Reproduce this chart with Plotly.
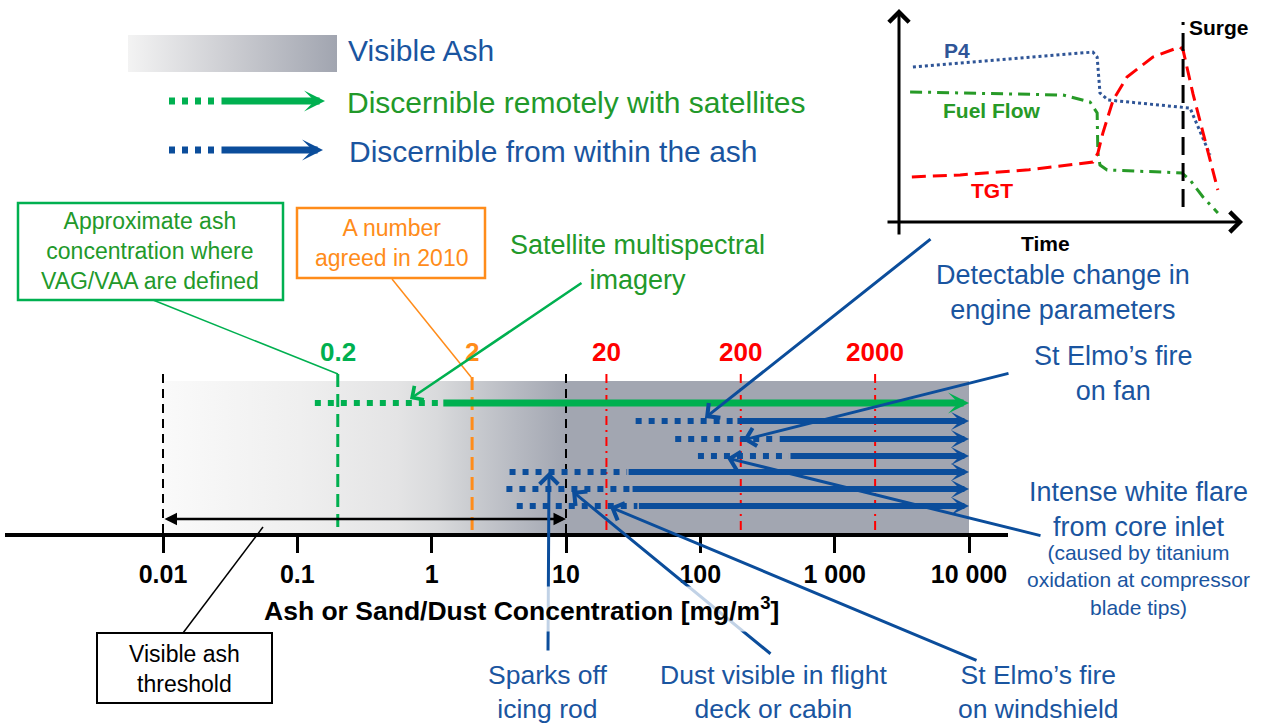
import numpy as np
import plotly.graph_objects as go

W, H = 1261, 723
FONT = "Liberation Sans, Arial, sans-serif"

# ---------------- data ----------------
DECADE_TICKS = [0.01, 0.1, 1, 10, 100, 1000, 10000]
DECADE_LABELS = ["0.01", "0.1", "1", "10", "100", "1 000", "10 000"]

VISIBLE_ASH_RANGE = [0.01, 10]          # visible ash threshold span
VAG_VAA_LEVEL = 0.2                     # approx. ash concentration for VAG/VAA
AGREED_2010_LEVEL = 2                   # number agreed in 2010
ENGINE_LEVELS = [20, 200, 2000]
ENGINE_LABELS = ["20", "200", "2000"]

SAT_DOTTED_START = 0.135
SAT_SOLID_START = 1.19
SAT_END = 10000

ROW_NAMES = ["Detectable change in engine parameters", "St Elmo's fire on fan",
             "Intense white flare from core inlet", "Sparks off icing rod",
             "Dust visible in flight deck or cabin", "St Elmo's fire on windshield"]
ROW_DOTTED_START = [33, 65, 96, 3.8, 3.6, 4.3]
ROW_SOLID_START = [184, 380, 457, 28.5, 30.5, 34]
ROW_END = [10000, 10000, 10000, 10000, 10000, 10000]

# inset: engine parameters vs time (arbitrary units 0-100)
P4_T = [7.3, 58.0, 59.2, 60.0, 62.3, 84.0, 85.4, 86.2, 91.0]
P4_V = [74.7, 81.3, 79.1, 63.1, 60.0, 56.9, 56.4, 53.3, 35.6]
FUEL_T = [6.5, 49.6, 57.2, 59.2, 59.4, 60.0, 62.0, 83.1, 85.4, 89.0, 93.2]
FUEL_V = [63.6, 62.2, 59.1, 54.2, 36.4, 31.1, 28.9, 27.6, 24.4, 16.9, 9.8]
TGT_T = [7.0, 20.6, 40.0, 58.0, 59.4, 60.8, 63.7, 67.6, 74.9, 82.5, 83.4, 86.2, 93.2]
TGT_V = [25.8, 26.7, 29.0, 32.4, 36.4, 45.3, 60.0, 70.2, 79.1, 83.6, 82.2, 62.7, 20.0]
SURGE_T = 83.4
SURGE_V = [12.4, 94.7]

# ---------------- layout constants (pixels) ----------------
PX_001 = 163.0           # pixel of 0.01
DEC = (969.0 - 163.0) / 6.0
AX_L, AX_R = 5.0, 1008.0
AXIS_Y = 535
BOX_TOP = 381
SAT_Y = 403
ROW_Y = [421, 439, 456, 472, 489, 506]
THR_TOP = 374
LABEL_Y = 352

BLUE = "#0b4d9b"
BLUE_T = "#1a55a0"
GREEN = "#00b050"
GREEN_T = "#22992a"
ORANGE = "#ff8c1a"
RED = "#ff0000"

fig = go.Figure()

def main_line(xs, ys, color, width, dash="solid"):
    fig.add_trace(go.Scatter(x=xs, y=ys, mode="lines", xaxis="x", yaxis="y",
                             line=dict(color=color, width=width, dash=dash),
                             hoverinfo="skip"))

# gradient "visible ash" band
fig.add_trace(go.Scatter(
    x=[DECADE_TICKS[0], DECADE_TICKS[-1], DECADE_TICKS[-1], DECADE_TICKS[0], DECADE_TICKS[0]],
    y=[BOX_TOP, BOX_TOP, AXIS_Y - 2, AXIS_Y - 2, BOX_TOP],
    mode="lines", fill="toself", line=dict(width=0), xaxis="x", yaxis="y",
    fillgradient=dict(type="horizontal", colorscale=[
        [0.0, "#fafafa"], [0.17, "#efefef"], [0.29, "#e4e4e5"], [0.34, "#d9dadc"],
        [0.38, "#cbcdd1"], [0.44, "#b6b9c1"], [0.50, "#a2a6b1"], [1.0, "#a2a6b1"]]),
    hoverinfo="skip"))

# threshold verticals
for v in VISIBLE_ASH_RANGE:
    main_line([v, v], [THR_TOP, AXIS_Y], "black", 2, "9px,6px")
main_line([VAG_VAA_LEVEL] * 2, [THR_TOP, AXIS_Y - 2], GREEN, 3, "13px,7px")
main_line([AGREED_2010_LEVEL] * 2, [THR_TOP + 3, AXIS_Y - 2], ORANGE, 3, "13px,7px")
for v in ENGINE_LEVELS:
    main_line([v, v], [THR_TOP, AXIS_Y - 2], RED, 2, "9px,5px,2px,5px")

# dotted parts of arrows
main_line([SAT_DOTTED_START, SAT_SOLID_START], [SAT_Y, SAT_Y], GREEN, 6, "6px,7px")
for d0, s0, y in zip(ROW_DOTTED_START, ROW_SOLID_START, ROW_Y):
    main_line([d0, s0], [y, y], BLUE, 6, "6px,7px")

# ---------------- overlay (pixel) subplot traces ----------------
fig.add_trace(go.Scatter(
    x=[128, 337, 337, 128, 128], y=[35, 35, 72, 72, 35], mode="lines", fill="toself",
    line=dict(width=0), xaxis="x2", yaxis="y2", hoverinfo="skip",
    fillgradient=dict(type="horizontal", colorscale=[[0, "#f3f3f3"], [0.5, "#cbccd1"], [1, "#a1a5b0"]])))
for yy, col in [(101, GREEN), (150, BLUE)]:
    fig.add_trace(go.Scatter(x=[169, 216], y=[yy, yy], mode="lines", xaxis="x2", yaxis="y2",
                             line=dict(color=col, width=7, dash="6px,7px"), hoverinfo="skip"))

# ---------------- inset traces ----------------
fig.add_trace(go.Scatter(x=P4_T, y=P4_V, mode="lines", xaxis="x3", yaxis="y3",
                         line=dict(color="#2f5597", width=3, dash="3px,3px"), hoverinfo="skip"))
fig.add_trace(go.Scatter(x=FUEL_T, y=FUEL_V, mode="lines", xaxis="x3", yaxis="y3",
                         line=dict(color="#279a27", width=3, dash="12px,6px,3px,6px"), hoverinfo="skip"))
fig.add_trace(go.Scatter(x=TGT_T, y=TGT_V, mode="lines", xaxis="x3", yaxis="y3",
                         line=dict(color=RED, width=3, dash="14px,7px"), hoverinfo="skip"))
fig.add_trace(go.Scatter(x=[SURGE_T, SURGE_T], y=SURGE_V, mode="lines", xaxis="x3", yaxis="y3",
                         line=dict(color="black", width=3, dash="18px,8px"), hoverinfo="skip"))

ann = []

def txt(x, y, s, size, color, bold=False, xanchor="center", **kw):
    d = dict(x=x, y=y, xref="x2", yref="y2", text=s, showarrow=False,
             font=dict(family=FONT, size=size, color=color, weight="bold" if bold else "normal"),
             xanchor=xanchor, yanchor="middle", align="center")
    d.update(kw)
    return d

def leader(tx, ty, hx, hy, color, width, head=4, size=1.0):
    return dict(x=hx, y=hy, xref="x2", yref="y2", ax=tx, ay=ty, axref="x2", ayref="y2",
                text="", showarrow=True, arrowhead=head, arrowsize=size,
                arrowwidth=width, arrowcolor=color, standoff=0)

# solid arrow parts with heads (main axis, log coordinates)
ann.append(dict(x=np.log10(SAT_END), y=SAT_Y, xref="x", yref="y",
                ax=np.log10(SAT_SOLID_START), ay=SAT_Y, axref="x", ayref="y",
                text="", showarrow=True, arrowhead=3, arrowsize=0.5, arrowwidth=7,
                arrowcolor=GREEN, standoff=0))
for s0, e, y in zip(ROW_SOLID_START, ROW_END, ROW_Y):
    ann.append(dict(x=np.log10(e), y=y, xref="x", yref="y",
                    ax=np.log10(s0), ay=y, axref="x", ayref="y",
                    text="", showarrow=True, arrowhead=3, arrowsize=0.5, arrowwidth=6,
                    arrowcolor=BLUE, standoff=0))

# visible ash threshold double arrow
ann.append(dict(x=np.log10(VISIBLE_ASH_RANGE[1]), y=519, xref="x", yref="y",
                ax=np.log10(VISIBLE_ASH_RANGE[0]), ay=519, axref="x", ayref="y",
                text="", showarrow=True, arrowhead=2, startarrowhead=2, arrowside="end+start",
                arrowsize=1, startarrowsize=1, arrowwidth=2.5, arrowcolor="black", standoff=0,
                startstandoff=0))

# threshold labels
def thr_label(v, s, color):
    return dict(x=np.log10(v), y=LABEL_Y, xref="x", yref="y", text=s, showarrow=False,
                font=dict(family=FONT, size=26, color=color, weight="bold"),
                xanchor="center", yanchor="middle")

ann.append(thr_label(VAG_VAA_LEVEL, "0.2", GREEN))
ann.append(thr_label(AGREED_2010_LEVEL, "2", ORANGE))
for v, s in zip(ENGINE_LEVELS, ENGINE_LABELS):
    ann.append(thr_label(v, s, RED))

# legend texts
ann.append(txt(346, 50, "Visible Ash", 30, BLUE_T, xanchor="left"))
ann.append(txt(345, 102, "Discernible remotely with satellites", 30, GREEN_T, xanchor="left"))
ann.append(txt(347, 151, "Discernible from within the ash", 30, BLUE_T, xanchor="left"))
ann.append(leader(220, 101, 325, 101, GREEN, 7, head=3, size=0.5))
ann.append(leader(220, 150, 323, 150, BLUE, 7, head=3, size=0.5))

# callouts with leaders
ann.append(leader(583, 282, 410, 399, GREEN, 2.5, head=4, size=1.3))
ann.append(leader(932, 238, 705, 418, BLUE, 3, head=4, size=1.2))
ann.append(leader(1010, 373, 743, 440, BLUE, 3, head=4, size=1.2))
ann.append(leader(1042, 536, 727, 458, BLUE, 3, head=4, size=1.2))
ann.append(leader(548, 652, 549, 472, BLUE, 3, head=4, size=1.2))
ann.append(leader(772, 655, 572, 491, BLUE, 3, head=4, size=1.2))
ann.append(leader(978, 661, 610, 507, BLUE, 3, head=4, size=1.2))

ann.append(txt(150, 251, "Approximate ash<br>concentration where<br>VAG/VAA are defined", 23, GREEN_T))
ann.append(txt(391, 243, "A number<br>agreed in 2010", 23, ORANGE))
ann.append(txt(637, 262, "Satellite multispectral<br>imagery", 27, GREEN_T))
ann.append(txt(1063, 292, "Detectable change in<br>engine parameters", 27, BLUE_T))
ann.append(txt(1113, 373, "St Elmo’s fire<br>on fan", 27, BLUE_T))
ann.append(txt(1138, 509, "Intense white flare<br>from core inlet", 27, BLUE_T))
ann.append(txt(1138, 580, "(caused by titanium<br>oxidation at compressor<br>blade tips)", 21, BLUE_T))
ann.append(txt(547, 692, "Sparks off<br>icing rod", 26.5, BLUE_T))
ann.append(txt(773, 692, "Dust visible in flight<br>deck or cabin", 26.5, BLUE_T))
ann.append(txt(1038, 692, "St Elmo’s fire<br>on windshield", 26.5, BLUE_T))
ann.append(txt(184, 669, "Visible ash<br>threshold", 23, "black"))

# axis title with translucent background
ann.append(txt(521, 609, "Ash or Sand/Dust Concentration [mg/m<sup>3</sup>]", 26.5, "black", bold=True,
               bgcolor="rgba(255,255,255,0.75)", borderpad=5))

# inset axes and labels
ann.append(leader(899, 236, 899, 9, "black", 3, head=4, size=1.3))
ann.append(leader(886, 222, 1243, 222, "black", 3, head=4, size=1.3))
ann.append(txt(957, 50, "P4", 21, "#2f5597", bold=True))
ann.append(txt(991, 110, "Fuel Flow", 21, "#279a27", bold=True))
ann.append(txt(992, 190, "TGT", 21, RED, bold=True))
ann.append(txt(1187, 27, "Surge", 21, "black", bold=True, xanchor="left"))
ann.append(txt(1045, 243, "Time", 21, "black", bold=True))

shapes = [
    dict(type="rect", xref="x2", yref="y2", x0=18, x1=283, y0=203, y1=300,
         line=dict(color=GREEN, width=2.5), fillcolor="white", layer="below"),
    dict(type="rect", xref="x2", yref="y2", x0=297, x1=485, y0=208, y1=278,
         line=dict(color=ORANGE, width=2.5), fillcolor="white", layer="below"),
    dict(type="rect", xref="x2", yref="y2", x0=97, x1=272, y0=633, y1=703,
         line=dict(color="black", width=2), fillcolor="white", layer="below"),
    dict(type="line", xref="x2", yref="y2", x0=153, y0=300, x1=338, y1=374,
         line=dict(color=GREEN, width=1.5)),
    dict(type="line", xref="x2", yref="y2", x0=392, y0=279, x1=471, y1=377,
         line=dict(color=ORANGE, width=1.5)),
    dict(type="line", xref="x2", yref="y2", x0=183, y0=633, x1=263, y1=527,
         line=dict(color="black", width=1.5)),
]

xr = [-2 + (AX_L - PX_001) / DEC, -2 + (AX_R - PX_001) / DEC]

fig.update_layout(
    width=W, height=H, margin=dict(l=0, r=0, t=0, b=0),
    paper_bgcolor="white", plot_bgcolor="rgba(0,0,0,0)", showlegend=False,
    xaxis=dict(type="log", domain=[AX_L / W, AX_R / W], range=xr, anchor="free",
               position=1 - AXIS_Y / H, showline=True, linecolor="black", linewidth=4,
               ticks="outside", ticklen=16, tickwidth=3, tickcolor="black",
               tickvals=DECADE_TICKS, ticktext=DECADE_LABELS, showgrid=False, zeroline=False,
               tickfont=dict(family=FONT, size=25, color="black", weight="bold")),
    yaxis=dict(domain=[0, 1], range=[H, 0], visible=False, anchor="x"),
    xaxis2=dict(domain=[0, 1], range=[0, W], visible=False, anchor="y2"),
    yaxis2=dict(domain=[0, 1], range=[H, 0], visible=False, anchor="x2"),
    xaxis3=dict(domain=[887 / W, 1242 / W], range=[0, 100], visible=False, anchor="y3"),
    yaxis3=dict(domain=[1 - 235 / H, 1 - 10 / H], range=[0, 100], visible=False, anchor="x3"),
    annotations=ann, shapes=shapes,
)

fig.write_html("out.html", config={"displayModeBar": False},
               post_script="document.body.style.margin='0';")
